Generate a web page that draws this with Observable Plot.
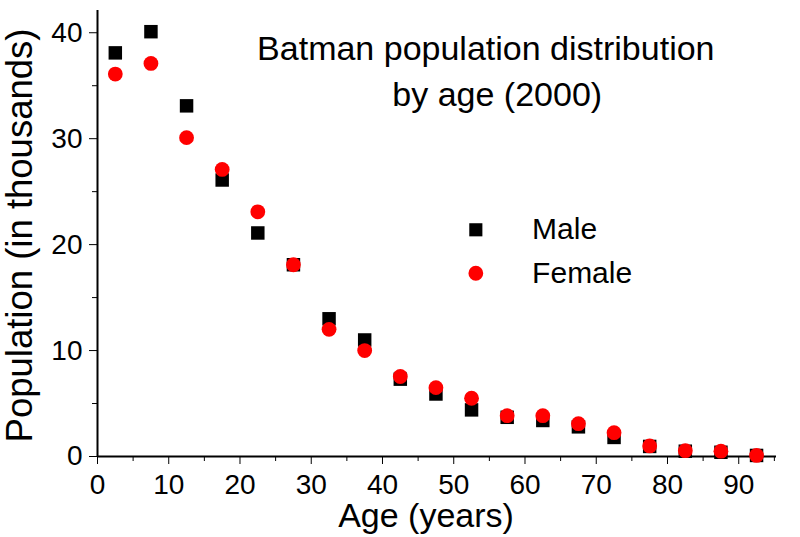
<!DOCTYPE html>
<html>
<head>
<meta charset="utf-8">
<script src="https://cdn.jsdelivr.net/npm/d3@7"></script>
<script src="https://cdn.jsdelivr.net/npm/@observablehq/plot@0.6"></script>
<style>
  html, body { margin: 0; padding: 0; background: #fff; }
  #chart svg { display: block; }
</style>
</head>
<body>
<div id="chart"></div>
<script>
const ages = [2.5, 7.5, 12.5, 17.5, 22.5, 27.5, 32.5, 37.5, 42.5, 47.5, 52.5, 57.5, 62.5, 67.5, 72.5, 77.5, 82.5, 87.5, 92.5];
const male = [38.1, 40.1, 33.1, 26.1, 21.1, 18.1, 13.0, 11.0, 7.3, 5.9, 4.4, 3.7, 3.4, 2.8, 1.8, 0.95, 0.5, 0.4, 0.1];
const female = [36.1, 37.1, 30.1, 27.1, 23.1, 18.1, 12.0, 10.0, 7.55, 6.5, 5.5, 3.85, 3.85, 3.1, 2.25, 1.0, 0.55, 0.5, 0.1];
const seriesNames = ["Male", "Female"];
const seriesColors = ["black", "red"];
const seriesSymbols = ["square", "circle"];
const xMajorTicks = [0, 10, 20, 30, 40, 50, 60, 70, 80, 90];
const xMinorTicks = [5, 15, 25, 35, 45, 55, 65, 75, 85, 95];
const yMajorTicks = [0, 10, 20, 30, 40];
const yMinorTicks = [5, 15, 25, 35];
const titleLines = ["Batman population distribution", "by age (2000)"];
const xLabel = "Age (years)";
const yLabel = "Population (in thousands)";

const maleRows = ages.map((a, i) => ({age: a, pop: male[i], sex: "Male"}));
const femaleRows = ages.map((a, i) => ({age: a, pop: female[i], sex: "Female"}));
const legend = seriesNames.map((s, i) => ({name: s, color: seriesColors[i], symbol: seriesSymbols[i], y: [21.4, 17.3][i]}));
const titleRows = titleLines.map((t, i) => ({text: t, x: [54.5, 56.1][i], y: [38.5, 34.1][i]}));

const font = "Liberation Sans, Arial, sans-serif";

const chart = Plot.plot({
  width: 800,
  height: 537,
  marginLeft: 97,
  marginRight: 24,
  marginTop: 10,
  marginBottom: 81,
  style: {fontFamily: font, background: "white", color: "black"},
  x: {domain: [0, 95.3]},
  y: {domain: [0, 42.1]},
  marks: [
    Plot.axisX({ticks: xMajorTicks, tickSize: 8, tickWidth: 1.5, fontSize: 28, tickPadding: 10, label: null, stroke: "black"}),
    Plot.axisX({ticks: xMinorTicks, tickSize: 5, tickWidth: 1.5, text: null, label: null, stroke: "black"}),
    Plot.axisY({ticks: yMajorTicks, tickSize: 8, tickWidth: 1.5, fontSize: 28, tickPadding: 7, label: null, stroke: "black"}),
    Plot.axisY({ticks: yMinorTicks, tickSize: 5, tickWidth: 1.5, text: null, label: null, stroke: "black"}),
    Plot.ruleY([0], {stroke: "black", strokeWidth: 2}),
    Plot.ruleX([0], {stroke: "black", strokeWidth: 2}),
    Plot.text([xLabel], {frameAnchor: "bottom", lineAnchor: "middle", dx: -11, dy: 60, fontSize: 34, text: d => d}),
    Plot.text([yLabel], {frameAnchor: "left", lineAnchor: "middle", dx: -77, dy: 2, rotate: -90, textAnchor: "middle", fontSize: 36.5, text: d => d}),
    Plot.text(titleRows, {x: "x", y: "y", text: "text", fontSize: 34}),
    Plot.dot(maleRows, {x: "age", y: "pop", symbol: "square", r: 7.6, fill: seriesColors[0], stroke: "none"}),
    Plot.dot(femaleRows, {x: "age", y: "pop", symbol: "circle", r: 7.4, fill: seriesColors[1], stroke: "none"}),
    Plot.dot(legend, {x: 53.1, y: "y", symbol: "symbol", r: 7.4, fill: "color", stroke: "none"}),
    Plot.text(legend, {x: 61.0, y: "y", text: "name", textAnchor: "start", fontSize: 30})
  ],
  symbol: {domain: ["square", "circle"], range: ["square", "circle"]}
});
document.getElementById("chart").appendChild(chart);
</script>
</body>
</html>
